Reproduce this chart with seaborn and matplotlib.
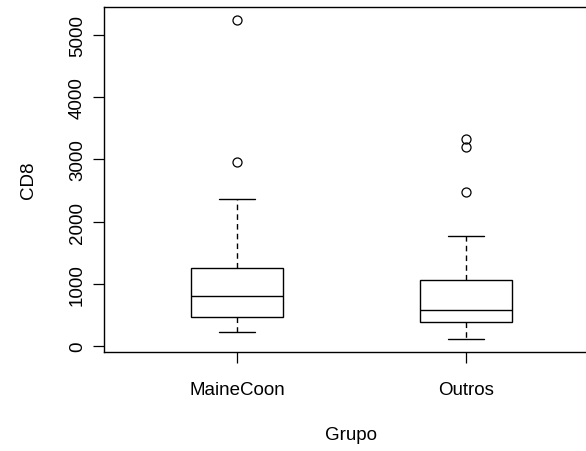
import matplotlib
matplotlib.use("Agg")
import matplotlib.pyplot as plt
import seaborn as sns
import pandas as pd

# Data (values chosen so the box statistics match the reference)
groups = ["MaineCoon", "Outros"]
maine_coon = [225, 300, 400, 461, 550, 700, 804, 900, 1100, 1249, 2363, 2953, 5246]
outros = [113, 180, 250, 320, 381, 430, 480, 540, 579, 650, 720, 850, 1061,
          1773, 2481, 3199, 3320]
y_ticks = [0, 1000, 2000, 3000, 4000, 5000]

df = pd.DataFrame({
    "Grupo": [groups[0]] * len(maine_coon) + [groups[1]] * len(outros),
    "CD8": maine_coon + outros,
})

sns.set_style("ticks")
plt.rcParams["font.family"] = ["Liberation Sans", "DejaVu Sans"]

W, H = 586, 452
fig = plt.figure(figsize=(W / 100, H / 100), dpi=100)
ax = fig.add_axes([104 / W, (H - 353) / H, (599 - 104) / W, (353 - 7.5) / H])

sns.boxplot(
    data=df, x="Grupo", y="CD8", order=groups, ax=ax,
    color="white", linecolor="black", linewidth=1.0, width=0.4,
    whiskerprops=dict(linestyle=(0, (4, 3)), linewidth=1.0),
    capprops=dict(linewidth=1.0),
    flierprops=dict(marker="o", markerfacecolor="none",
                    markeredgecolor="black", markersize=6.5, markeredgewidth=0.9),
    capwidths=0.16,
)

ax.set_xlim(-0.58, 1.58)
ax.set_ylim(-96, 5458)
ax.set_yticks(y_ticks)
ax.set_yticklabels([str(v) for v in y_ticks], rotation=90, va="center")
ax.tick_params(axis="both", length=8, width=0.9, direction="out",
               labelsize=13.5, colors="black")
ax.tick_params(axis="y", pad=5)
ax.tick_params(axis="x", pad=13)
for s in ax.spines.values():
    s.set_visible(True)
    s.set_linewidth(1.0)
    s.set_color("black")

ax.set_xlabel("Grupo", fontsize=13.5, color="black")
ax.set_ylabel("CD8", fontsize=13.5, color="black")
ax.xaxis.set_label_coords(0.5, (353 - 427) / 345.5)
ax.yaxis.set_label_coords((37.5 - 104) / 495, (353 - 180.7) / 345.5)

fig.savefig("out.png", dpi=100)
